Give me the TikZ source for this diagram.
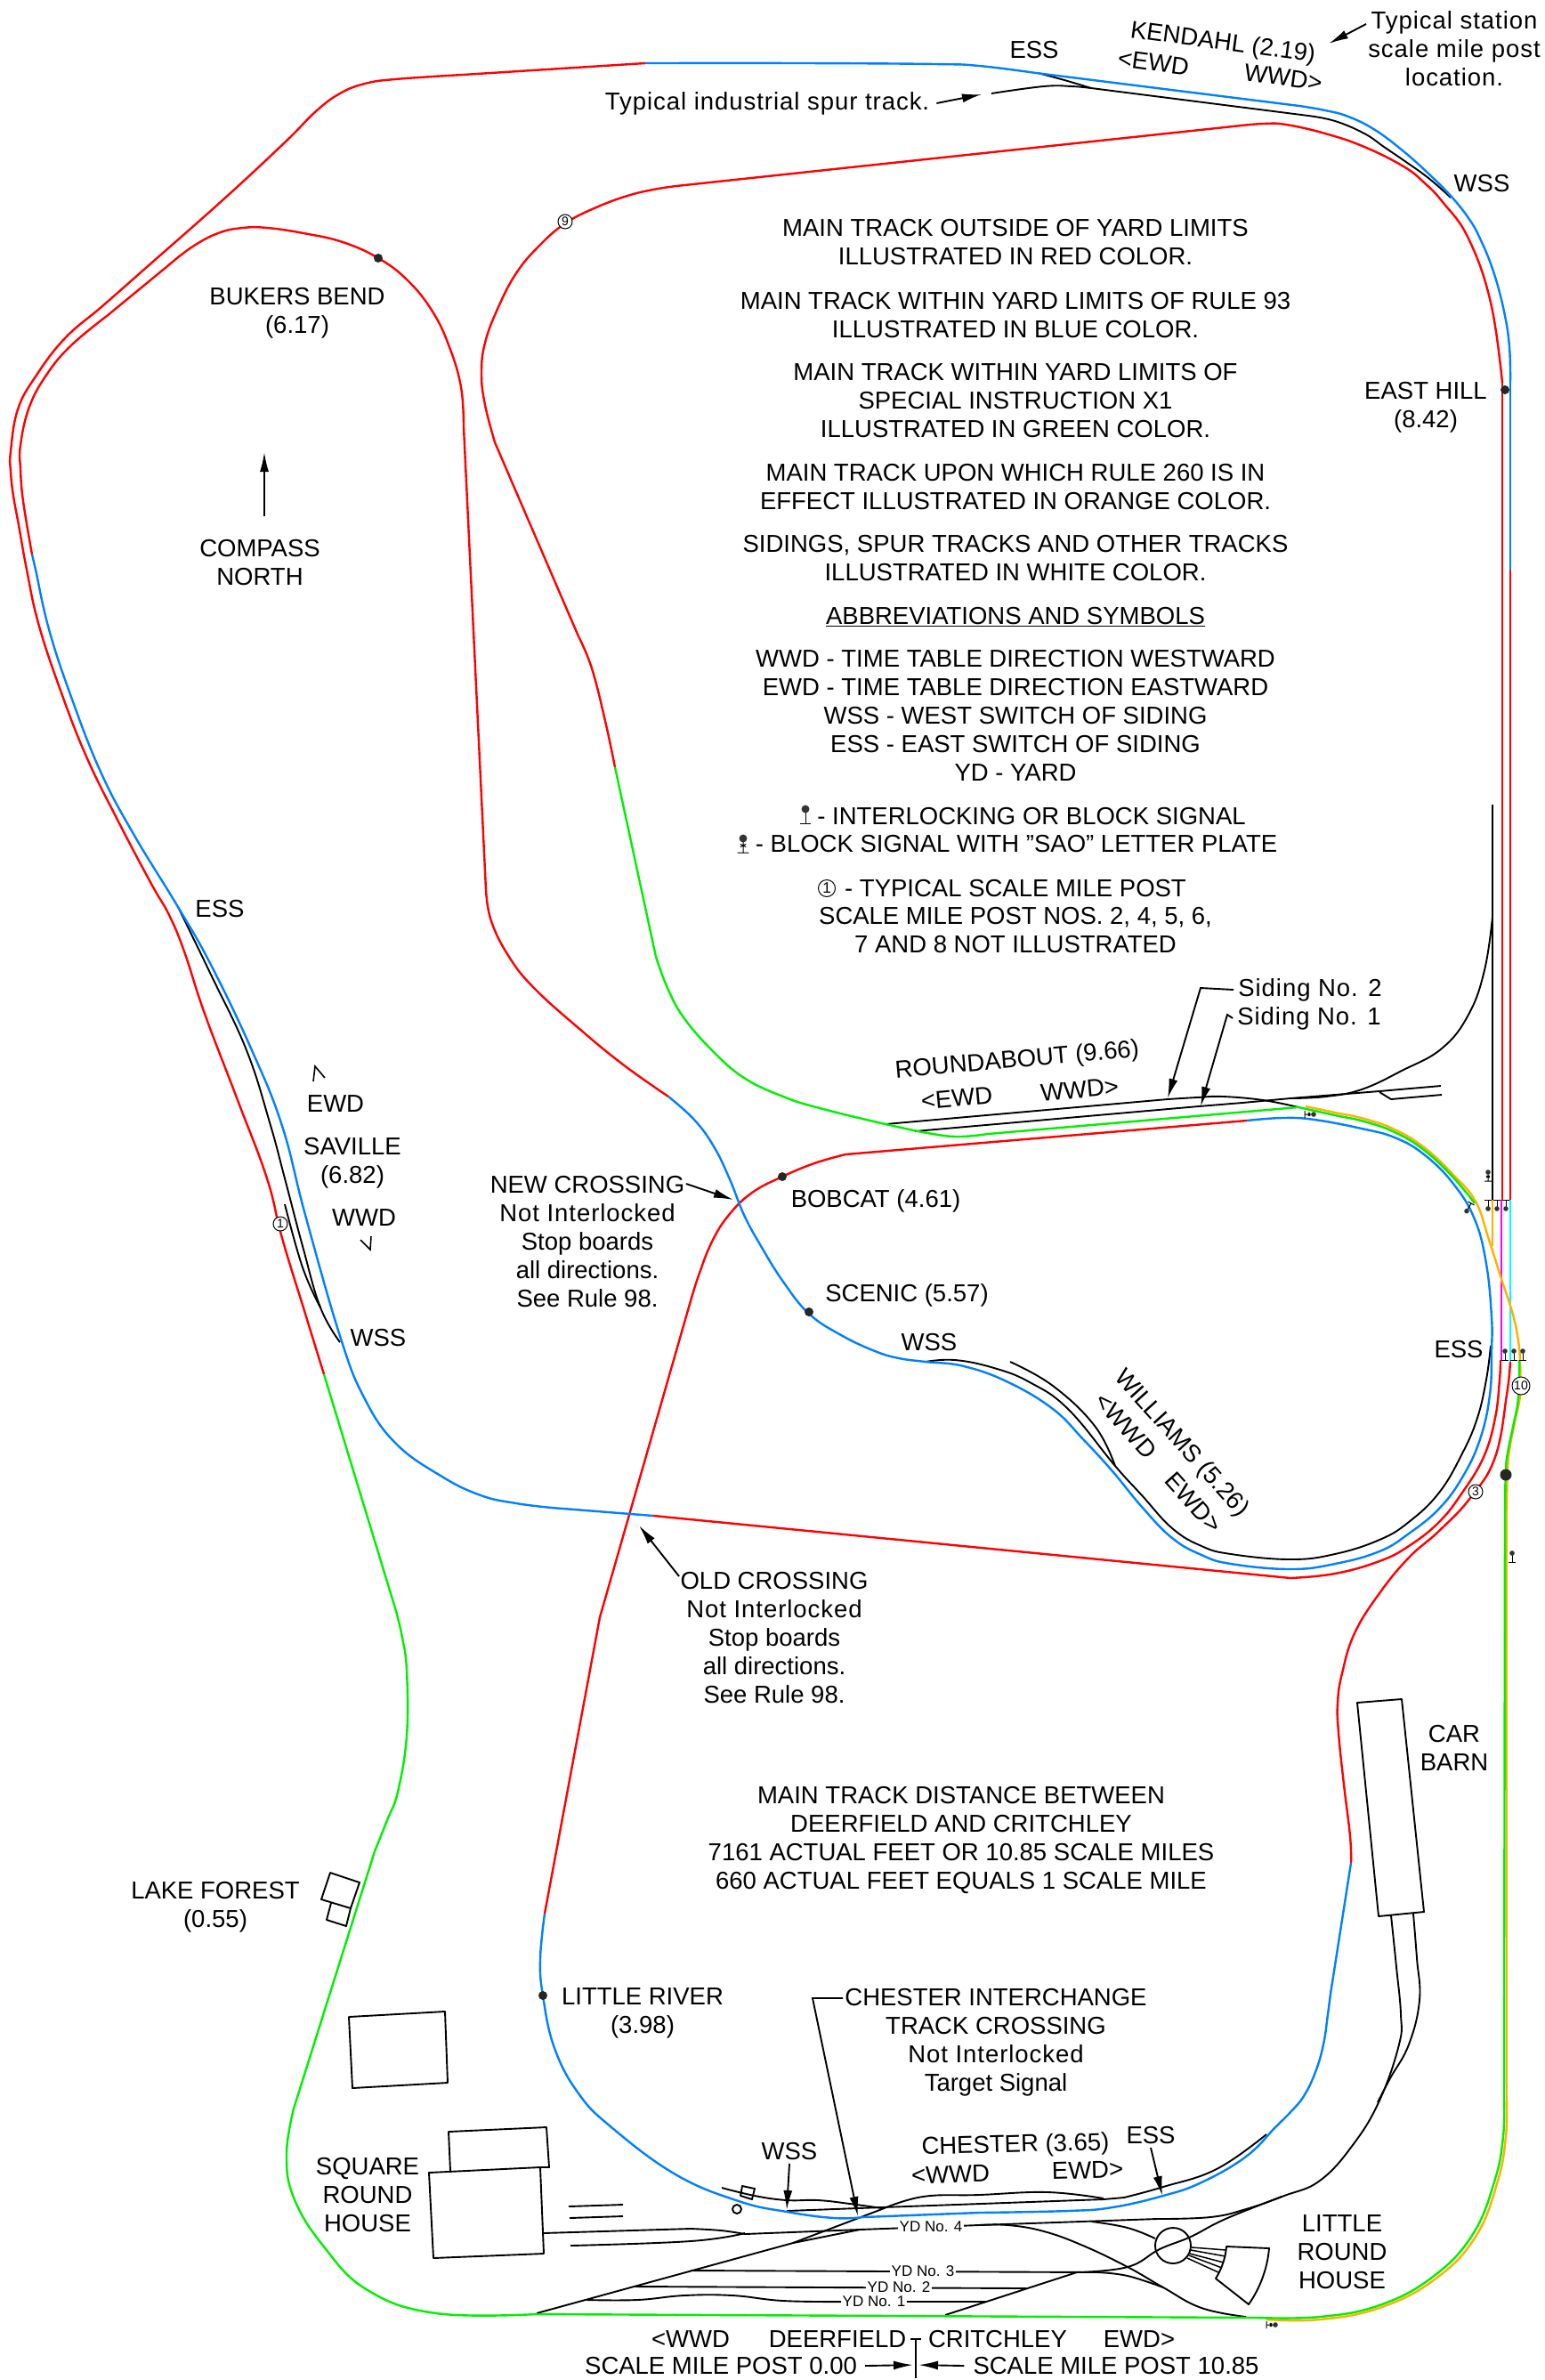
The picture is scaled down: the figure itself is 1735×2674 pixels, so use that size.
\documentclass[tikz,border=0pt]{standalone}
\usepackage{fontspec}
\setmainfont{Liberation Sans}
\newfontfamily\lcfont[LetterSpace=3.5]{Liberation Sans}
\usepackage{xcolor}
\definecolor{trackred}{RGB}{255, 0, 0}
\definecolor{trackblue}{RGB}{0, 128, 255}
\definecolor{trackgreen}{RGB}{0, 240, 0}
\definecolor{trackorange}{RGB}{255, 176, 0}
\definecolor{trackmagenta}{RGB}{255, 0, 255}
\definecolor{trackcyan}{RGB}{0, 255, 255}
\usetikzlibrary{arrows.meta}
\newcommand{\trk}[2]{\draw[#1] plot[smooth,tension=.7] coordinates {#2};}

\begin{document}
\begin{tikzpicture}[
  x=1pt, y=-1pt,
  lbl/.style={align=center, inner sep=0pt, font=\fontsize{27.5}{32}\selectfont},
  ydlbl/.style={fill=white, inner sep=2pt, font=\fontsize{17}{20}\selectfont},
  post/.style={circle, draw, fill=white, line width=1pt, inner sep=0pt, minimum size=16pt, font=\fontsize{14}{14}\selectfont},
  stn/.style={circle, fill=black!85, inner sep=0pt, minimum size=10pt},
  pen/.style={line width=1.9pt, line join=round},
  redline/.style={line width=2.4pt, color=trackred},
  blueline/.style={line width=2.4pt, color=trackblue},
  greenline/.style={line width=2.4pt, color=trackgreen},
  orangeline/.style={line width=2.4pt, color=trackorange},
  magline/.style={line width=2.4pt, color=trackmagenta},
  cyanline/.style={line width=2.4pt, color=trackcyan},
  pointer/.style={-{Latex[length=22pt,width=10pt]}, line width=1.9pt},
  sgnl/.pic={\draw[line width=1pt] (-4,0) -- (4,0) (0,0) -- (0,-10); \fill[black!80] (0,-10) circle (2.8);},
  saosgnl/.pic={\draw[line width=1pt] (-4,0) -- (4,0) (0,0) -- (0,-10) (-2,-6) -- (2,-4) (-2,-4) -- (2,-6); \fill[black!80] (0,-10) circle (2.8);}
]
\useasboundingbox (0,0) rectangle (1735,2674);

% sidings and yard
\draw[pen] (1226,99) -- (1470,130);
\trk{pen}{(1166,82) (1196,90) (1226,99)}
\trk{pen}{(1470,130) (1500,136) (1533,150) (1555,165) (1577,180) (1605,200) (1630,222)}
\trk{pen}{(1114,105) (1173,97) (1204,97) (1226,99)}
\trk{pen}{(200,1019) (237,1095) (277,1180) (303,1261) (320,1324) (340,1400) (360,1469) (382,1508)}
\trk{pen}{(320,1353) (340,1424) (360,1469)}
\trk{pen}{(1040,1530) (1073,1528) (1117,1537) (1157,1553) (1200,1583) (1253,1647) (1283,1680) (1317,1717) (1350,1737) (1383,1746) (1450,1752) (1500,1746) (1550,1730) (1583,1710) (1617,1677) (1643,1633) (1660,1593) (1670,1550) (1675,1512)}
\trk{pen}{(1135,1530) (1183,1557) (1230,1602) (1253,1647)}
\draw[pen] (995,1263) -- (1312,1235);
\trk{pen}{(1312,1235) (1345,1233) (1374,1232) (1419,1236) (1459,1244)}
\draw[pen] (1028,1271) -- (1347,1243);
\draw[pen] (1347,1243) -- (1396,1239) -- (1450,1234) -- (1550,1226) -- (1619,1220);
\draw[pen] (1550,1227) -- (1563,1235) -- (1620,1230);
\trk{pen}{(1450,1234) (1490,1232) (1530,1224) (1575,1203) (1620,1178) (1650,1140) (1668,1090) (1677,1030)}
\draw[pen] (1677,904) -- (1677,1348);
\trk{pen}{(811,2458) (848,2467) (884,2472) (919,2472) (955,2476) (991,2481)}
\draw[pen] (884,2484) -- (991,2480) -- (1240,2471) -- (1263,2469);
\draw[pen] (603,2599) -- (891,2520) -- (991,2482);
\trk{pen}{(991,2482) (1037,2468) (1100,2466) (1177,2463) (1240,2470)}
\trk{pen}{(1263,2469) (1307,2457) (1367,2437) (1423,2398)}
\draw[pen] (610,2509) -- (776,2504);
\trk{pen}{(776,2504) (810,2506) (837,2510)}
\trk{pen}{(641,2523) (776,2518) (837,2509)}
\draw[pen] (837,2510) -- (966,2505) -- (1100,2500);
\draw[pen] (891,2520) -- (966,2505);
\draw[pen] (1100,2500) -- (1300,2493);
\trk{pen}{(1300,2493) (1360,2491) (1400,2482) (1443,2467) (1483,2450) (1520,2410) (1550,2360) (1572,2297) (1574,2263) (1569,2210) (1563,2152)}
\trk{pen}{(1548,2362) (1562,2335) (1583,2297) (1595,2247) (1592,2200) (1588,2150)}
\trk{pen}{(1100,2500) (1133,2500) (1173,2507) (1217,2523) (1267,2547) (1307,2570) (1350,2593) (1400,2603)}
\trk{pen}{(1227,2496) (1267,2503) (1298,2515)}
\draw[pen] (776,2551) -- (1233,2553);
\trk{pen}{(1233,2553) (1267,2557) (1307,2570)}
\draw[pen] (714,2569) -- (1153,2571);
\trk{pen}{(659,2584) (716,2584) (769,2579) (823,2579) (880,2585) (948,2586)}
\draw[pen] (948,2586) -- (1109,2586);
\draw[pen] (1062,2601) -- (1210,2553);
\trk{pen}{(1210,2553) (1267,2547) (1303,2527) (1338,2513) (1377,2493) (1440,2468)}
\draw[pen] (639,2479) -- (700,2477) (640,2492) -- (700,2490);

% main track, outer line of the left side
\draw[redline] (725,71) -- (520,84);
\trk{redline}{(520,84) (444,89) (410,94) (382,105) (355,125) (320,160) (250,225) (165,300) (115,344) (73,380) (40,423) (20,460) (12,507) (12,530) (15,557) (21,590) (30,640) (43,700) (67,773) (97,850) (133,923) (170,993) (190,1028) (207,1069) (230,1139) (267,1236) (300,1324) (317,1391) (343,1476) (364,1544)}
\trk{blueline}{(725,71) (900,71) (1050,72) (1100,74) (1164,82)}
\draw[blueline] (1164,82) -- (1460,119);
\trk{blueline}{(1460,119) (1489,124) (1515,131) (1545,146) (1577,170) (1605,195) (1630,220) (1650,245) (1663,268) (1678,305) (1690,350) (1696,390) (1697,430)}
\draw[blueline] (1697,430) -- (1697,640);
\draw[redline] (1697,640) -- (1697,1348);
\draw[cyanline] (1697,1348) -- (1697,1530);
\trk{redline}{(1697,1530) (1693,1567) (1680,1637) (1652,1683) (1617,1720) (1583,1750) (1550,1790) (1522,1835) (1508,1880) (1503,1913) (1504,1947) (1510,2005) (1517,2063) (1518,2093)}
\draw[blueline] (1518,2093) -- (1495,2240);
\trk{blueline}{(1495,2240) (1492,2263) (1487,2297) (1478,2328) (1465,2355) (1450,2373) (1433,2390) (1400,2423) (1350,2452) (1307,2467) (1250,2480) (1200,2484) (1100,2486)}
\draw[blueline] (1100,2486) -- (970,2491);
\trk{blueline}{(970,2491) (937,2492) (884,2485) (830,2473) (759,2443) (687,2390) (650,2352) (623,2301) (610,2242) (607,2201) (612,2150)}
\draw[redline] (612,2150) -- (674,1817) -- (775,1465);
\trk{redline}{(775,1465) (785,1433) (800,1395) (819,1365) (845,1340) (879,1322) (915,1307) (950,1297)}
\draw[redline] (950,1297) -- (1401,1259);
\trk{blueline}{(1401,1259) (1441,1256) (1477,1258) (1530,1268) (1567,1278) (1600,1297) (1633,1330) (1657,1370) (1670,1420) (1676,1480) (1676,1517) (1674,1567) (1663,1617) (1643,1660) (1617,1695) (1583,1723) (1550,1743) (1500,1757) (1450,1763) (1383,1757) (1350,1747) (1317,1728) (1283,1693) (1250,1653) (1217,1617) (1183,1583) (1133,1553) (1083,1535) (1040,1530) (1010,1526) (983,1518) (945,1500) (909,1476) (880,1440) (855,1400) (836,1365) (820,1325) (802,1288) (780,1258) (751,1232)}

% main track, inner line of the left side
\trk{redline}{(751,1232) (700,1196) (650,1155) (600,1110) (572,1075) (552,1035) (546,1000)}
\draw[redline] (546,1000) -- (521,480);
\trk{redline}{(521,480) (518,435) (505,390) (486,350) (458,315) (425,290) (385,272) (341,262) (300,256) (273,256) (245,262) (215,278) (187,300)}
\draw[redline] (187,300) -- (120,355);
\trk{redline}{(120,355) (80,388) (53,420) (33,457) (23,500) (23,527) (26,563) (36,623)}
\trk{blueline}{(36,623) (40,640) (55,707) (80,783) (113,867) (150,937) (200,1019) (237,1084) (283,1180) (317,1265) (343,1365) (382,1501) (409,1570) (444,1621) (495,1658) (540,1680) (580,1689) (620,1694)}
\draw[blueline] (620,1694) -- (734,1703);
\draw[redline] (734,1703) -- (1450,1773);
\trk{redline}{(1450,1773) (1500,1768) (1550,1754) (1583,1737) (1617,1710) (1643,1677) (1667,1637) (1680,1593) (1685,1550) (1686,1528)}
\draw[magline] (1687,1528) -- (1687,1348);
\draw[redline] (1688,1348) -- (1688,430);
\trk{redline}{(1688,430) (1675,340) (1650,268) (1621,227) (1600,205) (1577,187) (1533,165) (1489,150) (1445,140) (1420,139) (1395,141)}
\draw[redline] (1395,141) -- (760,209);
\trk{redline}{(760,209) (734,213) (705,220) (670,233) (635,251) (605,277) (580,307) (560,345) (545,385) (541,420) (545,455) (556,497)}
\draw[redline] (556,497) -- (650,715);
\trk{redline}{(650,715) (665,751) (680,810) (691,862)}
\draw[greenline] (691,862) -- (737,1075);
\trk{greenline}{(737,1075) (750,1110) (768,1143) (800,1180) (836,1211) (880,1232) (921,1245) (995,1263) (1048,1274) (1079,1277) (1110,1274)}
\draw[greenline] (1110,1274) -- (1459,1244);

% main track, green and orange down to the bottom
\trk{orangeline}{(1467,1243) (1500,1250) (1533,1257) (1567,1269) (1600,1289) (1633,1320) (1658,1350) (1673,1393) (1687,1437) (1700,1477) (1706,1507) (1708,1530) (1708,1567) (1703,1593) (1697,1623) (1694,1650) (1693,1700)}
\draw[orangeline] (1693,1700) -- (1693,2360);
\trk{orangeline}{(1693,2360) (1692,2400) (1683,2450) (1658,2513) (1612,2561) (1550,2593) (1483,2606) (1423,2606)}
\draw[orangeline] (1677,1348) -- (1677,1400);
\trk{greenline}{(1459,1244) (1500,1253) (1533,1260) (1567,1272) (1600,1292) (1633,1323) (1657,1352)}
\trk{greenline}{(1707,1528) (1706,1570) (1700,1603) (1695,1627) (1692,1650) (1691,1700)}
\draw[greenline] (1691,1700) -- (1690,2360);
\trk{greenline}{(1690,2360) (1689,2400) (1680,2448) (1655,2510) (1610,2558) (1550,2590) (1483,2603) (1413,2604)}
\draw[greenline] (1413,2604) -- (603,2600);
\trk{greenline}{(603,2600) (490,2599) (413,2573) (363,2523) (330,2469) (322,2420) (330,2369)}
\draw[greenline] (330,2369) -- (421,2080);
\trk{greenline}{(421,2080) (435,2045) (447,2013) (457,1950) (457,1877) (452,1840) (445,1810)}
\draw[greenline] (445,1810) -- (364,1544);

% buildings
\draw[pen] (1525,1913) -- (1575,1909) -- (1600,2148) -- (1549,2153) -- cycle;
\draw[pen] (371,2104) -- (404,2115) -- (394,2144) -- (361,2134) -- cycle;
\draw[pen] (372,2138) -- (367,2157) -- (389,2164) -- (394,2144);
\draw[pen] (392,2266) -- (500,2260) -- (503,2340) -- (396,2346) -- cycle;
\draw[pen] (482,2441) -- (607,2435) -- (611,2532) -- (487,2537) -- cycle;
\draw[pen] (506,2439) -- (504,2395) -- (614,2390) -- (617,2435) -- (607,2435);
\draw[pen] (834,2456) -- (848,2459) -- (845,2471) -- (832,2467) -- cycle;
\draw[pen] (828,2482) circle (5);
\node[circle, draw, line width=1.9pt, minimum size=40pt, inner sep=0pt] (turntable) at (1318,2523) {};
\draw[pen] (1378,2524) -- (1426,2526) .. controls (1424,2550) and (1415,2572) .. (1403,2589) -- (1366,2560) .. controls (1372,2550) and (1377,2538) .. cycle;
\foreach \ax/\ay/\bx/\by in {1339/2525/1378/2528, 1338/2528/1377/2535, 1337/2532/1375/2542, 1336/2534/1373/2548, 1334/2537/1369/2553}
  \draw[line width=1.5pt] (\ax,\ay) -- (\bx,\by);

% signals
\foreach \sx in {1672,1682,1692}
  \pic[rotate=180] at (\sx,1348) {sgnl};
\foreach \sx in {1691,1701,1711}
  \pic at (\sx,1528) {sgnl};
\pic at (1672,1327) {saosgnl};
\pic[rotate=150] at (1653,1352) {sgnl};
\pic at (1699,1755) {sgnl};
\pic[rotate=-90] at (1423,2612) {saosgnl};
\pic[rotate=-90] at (1466,1252) {saosgnl};
\pic[scale=1.6] at (905,925) {sgnl};
\pic[scale=1.6] at (835,958) {saosgnl};

% stations and mile posts
\node[stn] (bukers) at (425,290) {};
\node[stn] (easthill) at (1691,438) {};
\node[stn] (bobcat) at (879,1322) {};
\node[stn] (scenic) at (909,1474) {};
\node[stn, minimum size=13pt] (junction) at (1692,1657) {};
\node[stn] (river) at (610,2242) {};
\node[post] (post9) at (635,249) {9};
\node[post] (post1) at (315,1375) {1};
\node[post] (post3) at (1658,1676) {3};
\node[post, minimum size=20pt] (post10) at (1709,1557) {10};
\node[post, minimum size=19pt, font=\fontsize{17}{17}\selectfont] (postkey) at (929,998) {1};

% yard labels
\node[ydlbl] (yd4) at (1046,2502) {YD No. 4};
\node[ydlbl] (yd3) at (1037,2552) {YD No. 3};
\node[ydlbl] (yd2) at (1010,2570) {YD No. 2};
\node[ydlbl] (yd1) at (982,2586) {YD No. 1};

% notes
\node[lbl] (note1) at (1141,272) {MAIN TRACK OUTSIDE OF YARD LIMITS\\ILLUSTRATED IN RED COLOR.};
\node[lbl] (note2) at (1141,354) {MAIN TRACK WITHIN YARD LIMITS OF RULE 93\\ILLUSTRATED IN BLUE COLOR.};
\node[lbl] (note3) at (1141,450) {MAIN TRACK WITHIN YARD LIMITS OF\\SPECIAL INSTRUCTION X1\\ILLUSTRATED IN GREEN COLOR.};
\node[lbl] (note4) at (1141,547) {MAIN TRACK UPON WHICH RULE 260 IS IN\\EFFECT ILLUSTRATED IN ORANGE COLOR.};
\node[lbl] (note5) at (1141,627) {SIDINGS, SPUR TRACKS AND OTHER TRACKS\\ILLUSTRATED IN WHITE COLOR.};
\node[lbl] (abbrhead) at (1141,693) {\underline{ABBREVIATIONS AND SYMBOLS}};
\node[lbl] (abbr) at (1141,804) {WWD - TIME TABLE DIRECTION WESTWARD\\EWD - TIME TABLE DIRECTION EASTWARD\\WSS - WEST SWITCH OF SIDING\\ESS - EAST SWITCH OF SIDING\\YD - YARD};
\node[lbl] (keysig) at (1159,917) {- INTERLOCKING OR BLOCK SIGNAL};
\node[lbl] (keysao) at (1142,948) {- BLOCK SIGNAL WITH "SAO" LETTER PLATE};
\node[lbl] (keypost) at (1141,998) {- TYPICAL SCALE MILE POST};
\node[lbl] (keypost2) at (1141,1045) {SCALE MILE POST NOS. 2, 4, 5, 6,\\7 AND 8 NOT ILLUSTRATED};
\node[lbl] (distance) at (1080,2067) {MAIN TRACK DISTANCE BETWEEN\\DEERFIELD AND CRITCHLEY\\7161 ACTUAL FEET OR 10.85 SCALE MILES\\660 ACTUAL FEET EQUALS 1 SCALE MILE};

% place names
\node[lbl] (essa) at (1162,56) {ESS};
\node[lbl, rotate=-7.7] (kendahl) at (1374,49) {KENDAHL (2.19)};
\node[lbl, rotate=-7.7] (ewda) at (1296,70) {<EWD};
\node[lbl, rotate=-7.7] (wwda) at (1442,87) {WWD>};
\node[lbl, font=\fontsize{27.5}{32}\lcfont] (stationnote) at (1634,55) {Typical station\\scale mile post\\location.};
\node[lbl, font=\fontsize{27.5}{32}\lcfont] (spurnote) at (862,116) {Typical industrial spur track.};
\node[lbl] (wssa) at (1665,206) {WSS};
\node[lbl] (bukerslbl) at (334,352) {BUKERS BEND\\(6.17)};
\node[lbl] (compass) at (292,632) {COMPASS\\NORTH};
\node[lbl] (hilllbl) at (1602,458) {EAST HILL\\(8.42)};
\node[lbl] (essb) at (247,1021) {ESS};
\node[lbl] (ewdb) at (377,1240) {EWD};
\node[lbl] (saville) at (396,1307) {SAVILLE\\(6.82)};
\node[lbl] (wwdb) at (409,1368) {WWD};
\node[lbl] (wssb) at (425,1503) {WSS};
\node[lbl] (newcross) at (660,1395) {NEW CROSSING\\\lcfont Not Interlocked\\Stop boards\\all directions.\\See Rule 98.};
\node[lbl] (bobcatlbl) at (984,1349) {BOBCAT (4.61)};
\node[lbl] (sceniclbl) at (1019,1455) {SCENIC (5.57)};
\node[lbl] (wssc) at (1044,1508) {WSS};
\node[lbl, rotate=-48] (williams) at (1327,1622) {WILLIAMS (5.26)};
\node[lbl, rotate=-48] (wwdc) at (1265,1602) {<WWD};
\node[lbl, rotate=-48] (ewdc) at (1341,1688) {EWD>};
\node[lbl] (essc) at (1639,1516) {ESS};
\node[lbl] (oldcross) at (870,1840) {OLD CROSSING\\\lcfont Not Interlocked\\Stop boards\\all directions.\\See Rule 98.};
\node[lbl, rotate=5] (roundabout) at (1143,1192) {ROUNDABOUT (9.66)};
\node[lbl, rotate=5] (ewdd) at (1075,1234) {<EWD};
\node[lbl, rotate=5] (wwdd) at (1213,1224) {WWD>};
\node[lbl, font=\fontsize{27.5}{32}\lcfont] (siding2) at (1472,1112) {Siding No. 2};
\node[lbl, font=\fontsize{27.5}{32}\lcfont] (siding1) at (1471,1144) {Siding No. 1};
\node[lbl] (carbarn) at (1634,1964) {CAR\\BARN};
\node[lbl] (lakeforest) at (242,2143) {LAKE FOREST\\(0.55)};
\node[lbl] (riverlbl) at (722,2262) {LITTLE RIVER\\(3.98)};
\node[lbl] (interchange) at (1119,2295) {CHESTER INTERCHANGE\\TRACK CROSSING\\\lcfont Not Interlocked\\Target Signal};
\node[lbl] (wssd) at (887,2417) {WSS};
\node[lbl, rotate=1.5] (chester) at (1141,2411) {CHESTER (3.65)};
\node[lbl, rotate=1.5] (wwde) at (1068,2443) {<WWD};
\node[lbl, rotate=1.5] (ewde) at (1222,2438) {EWD>};
\node[lbl] (essd) at (1293,2399) {ESS};
\node[lbl] (squarehouse) at (413,2466) {SQUARE\\ROUND\\HOUSE};
\node[lbl] (littlehouse) at (1508,2530) {LITTLE\\ROUND\\HOUSE};
\node[lbl] (wwdf) at (776,2628) {<WWD};
\node[lbl] (deerfield) at (941,2628) {DEERFIELD};
\node[lbl] (critchley) at (1121,2628) {CRITCHLEY};
\node[lbl] (ewdf) at (1280,2628) {EWD>};
\node[lbl] (post000) at (810,2658) {SCALE MILE POST 0.00};
\node[lbl] (post1085) at (1254,2658) {SCALE MILE POST 10.85};

% pointers
\coordinate (stationtail) at (1535,27);
\coordinate (stationtip) at (1493,49);
\coordinate (spurtip) at (1103,106);
\coordinate (northtail) at (297,580);
\coordinate (northtip) at (297,508);
\coordinate (newtail) at (771,1330);
\coordinate (newtip) at (824,1348);
\coordinate (oldtail) at (763,1771);
\coordinate (oldtip) at (718,1714);
\coordinate (bend2) at (1349,1110);
\coordinate (tip2) at (1312,1234);
\coordinate (bend1) at (1379,1140);
\coordinate (tip1) at (1349,1243);
\coordinate (tailx) at (947,2245);
\coordinate (bendx) at (913,2245);
\coordinate (tipx) at (964,2490);
\coordinate (wsstip) at (884,2483);
\coordinate (esstip) at (1306,2467);
\coordinate (limitcross) at (1029,2657);
\draw[pointer] (stationtail) -- (stationtip);
\draw[pointer] ([xshift=8pt]spurnote.east) -- (spurtip);
\draw[pointer] (northtail) -- (northtip);
\draw[pointer] (newtail) -- (newtip);
\draw[pointer] (oldtail) -- (oldtip);
\draw[pointer] ([xshift=-5pt]siding2.west) -- (bend2) -- (tip2);
\draw[pointer] ([xshift=-5pt]siding1.west) -- (bend1) -- (tip1);
\draw[pointer] (tailx) -- (bendx) -- (tipx);
\draw[pointer] ([yshift=-4pt]wssd.south) -- (wsstip);
\draw[pointer] ([yshift=-4pt]essd.south) -- (esstip);
\draw[pen] (1023,2628) -- (1035,2628) (1029,2628) -- (1029,2672);
\draw[pointer, shorten >=3pt] ([xshift=9pt]post000.east) -- (limitcross);
\draw[pointer, shorten >=3pt] ([xshift=-10pt]post1085.west) -- (limitcross);
\draw[line width=1.6pt] (352,1215) -- (354,1198) -- (365,1211);
\draw[line width=1.6pt] (405,1393) -- (416,1404) -- (417,1389);
\end{tikzpicture}
\end{document}
